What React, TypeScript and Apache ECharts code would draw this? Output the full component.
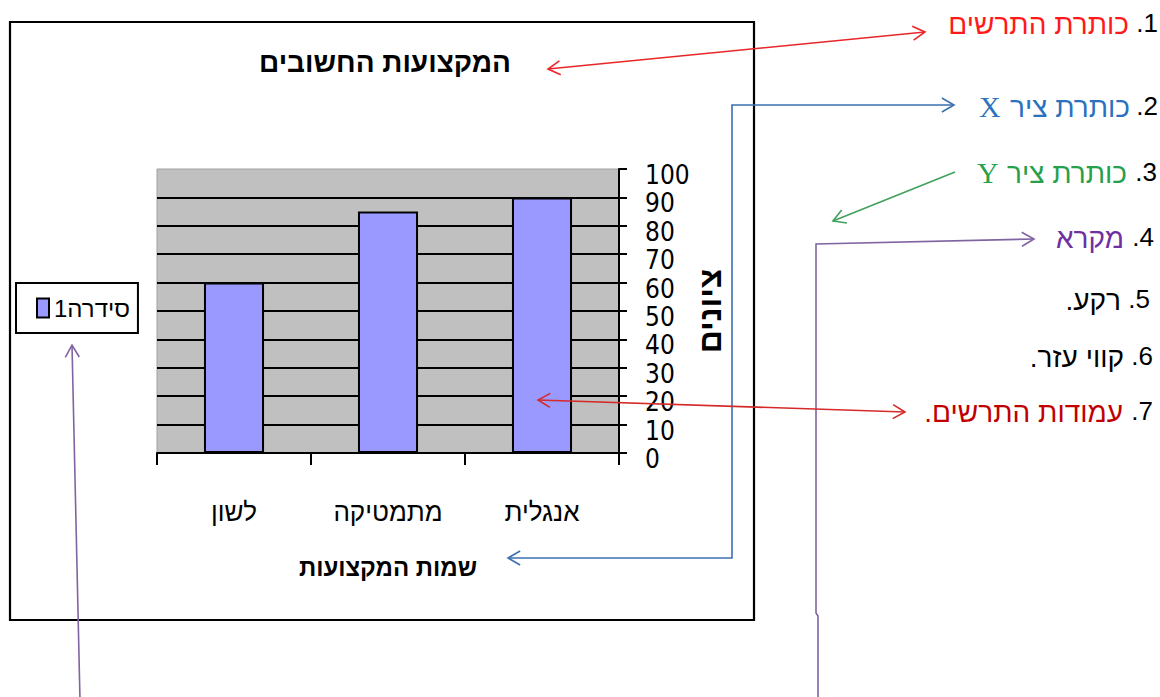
import React, { useEffect, useRef } from "react";
import * as echarts from "echarts";

// ---------- data ----------
const categories = ["אנגלית", "מתמטיקה", "לשון"];
const scores = [90, 85, 60];
const seriesName = "סידרה1";
const chartTitle = "המקצועות החשובים";
const xAxisTitle = "שמות המקצועות";
const yAxisTitle = "ציונים";
const yMin = 0;
const yMax = 100;
const yInterval = 10;

const noteNumbers = ["1.", "2.", "3.", "4.", "5.", "6.", "7."];
const noteTexts = ["כותרת התרשים", "כותרת ציר", "כותרת ציר", "מקרא", "רקע.", "קווי עזר.", "עמודות התרשים."];
const noteLatin = ["", "X", "Y", "", "", "", ""];
const noteColors = ["#ff1a1a", "#2a72bf", "#27a04c", "#7030a0", "#000000", "#000000", "#c00000"];

// ---------- layout / style ----------
const COND = '"DejaVu Sans Condensed", "Liberation Sans", Arial, sans-serif';
const SANS = '"Liberation Sans", Arial, sans-serif';
const SERIF = '"Liberation Serif", "Times New Roman", serif';
const rtl = (s: string) => "\u202B" + s + "\u202C";

const noteY = [23, 106, 172, 237, 299, 356, 411];
const noteNumRight = [1158, 1158, 1157, 1154, 1150, 1153, 1153];
const noteTextRight = [1129, 1130, 1127, 1124, 1121, 1124, 1123];
const noteLatinLeft = [0, 979, 977, 0, 0, 0, 0];

function arrowHead(tip: number[], from: number[], color: string, lw = 1.6, len = 14, ang = Math.PI / 6) {
  const a = Math.atan2(tip[1] - from[1], tip[0] - from[0]);
  const p1 = [tip[0] - len * Math.cos(a - ang), tip[1] - len * Math.sin(a - ang)];
  const p2 = [tip[0] - len * Math.cos(a + ang), tip[1] - len * Math.sin(a + ang)];
  return {
    type: "polyline",
    z: 100,
    shape: { points: [p1, tip, p2] },
    style: { stroke: color, lineWidth: lw, fill: null },
  };
}

function pline(points: number[][], color: string, lw = 1.6) {
  return {
    type: "polyline",
    z: 100,
    shape: { points },
    style: { stroke: color, lineWidth: lw, fill: null },
  };
}

export default function App() {
  const ref = useRef<HTMLDivElement>(null);

  useEffect(() => {
    if (!ref.current) return;
    const chart = echarts.init(ref.current, undefined, { renderer: "svg" });

    const RED = "#e8262a";
    const BLUE = "#3b70b0";
    const GREEN = "#3fa15c";
    const PURPLE = "#8064a2";
    const RED7 = "#d42a2a";

    const graphics: any[] = [
      // chart frame
      {
        type: "rect",
        z: 50,
        shape: { x: 10, y: 22, width: 744, height: 598 },
        style: { fill: null, stroke: "#000", lineWidth: 2.2 },
      },
      // 1. title arrow (double)
      pline([[548, 69], [925, 32]], RED),
      arrowHead([548, 69], [925, 32], RED),
      arrowHead([925, 32], [548, 69], RED),
      // 2. x-axis title arrow
      pline([[508, 558], [732, 558], [732, 105], [954, 105]], BLUE),
      arrowHead([508, 558], [732, 558], BLUE),
      arrowHead([954, 105], [732, 105], BLUE),
      // 3. y-axis title arrow
      pline([[955, 172], [833, 221]], GREEN),
      arrowHead([833, 221], [955, 172], GREEN),
      // 4. legend arrows
      pline([[1034, 239], [816, 244], [816, 613], [818, 616], [818, 700]], PURPLE),
      arrowHead([1034, 239], [816, 244], PURPLE),
      pline([[72, 345], [80, 700]], PURPLE),
      arrowHead([72, 345], [80, 700], PURPLE),
      // 7. bars arrow (double)
      pline([[538, 400], [905, 412]], RED7),
      arrowHead([538, 400], [905, 412], RED7),
      arrowHead([905, 412], [538, 400], RED7),
    ];

    noteNumbers.forEach((n, i) => {
      graphics.push({
        type: "text",
        z: 100,
        x: noteNumRight[i],
        y: noteY[i],
        style: {
          text: rtl(n),
          fill: "#000",
          font: `26px ${SANS}`,
          align: "right",
          verticalAlign: "middle",
        },
      });
      graphics.push({
        type: "text",
        z: 100,
        x: noteTextRight[i],
        y: noteY[i] + 1,
        style: {
          text: rtl(noteTexts[i]),
          fill: noteColors[i],
          font: `28px ${SANS}`,
          align: "right",
          verticalAlign: "middle",
        },
      });
      if (noteLatin[i]) {
        graphics.push({
          type: "text",
          z: 100,
          x: noteLatinLeft[i],
          y: noteY[i],
          style: {
            text: noteLatin[i],
            fill: noteColors[i],
            font: `30px ${SERIF}`,
            align: "left",
            verticalAlign: "middle",
          },
        });
      }
    });

    const option: any = {
      animation: false,
      backgroundColor: "#ffffff",
      textStyle: { fontFamily: SANS },
      title: {
        text: chartTitle,
        left: 385,
        top: 48,
        padding: 0,
        textAlign: "center",
        textStyle: { fontSize: 28, fontWeight: "bold", color: "#000", fontFamily: SANS },
      },
      legend: {
        left: 16,
        top: 283,
        orient: "vertical",
        backgroundColor: "#fff",
        borderColor: "#000",
        borderWidth: 2,
        borderRadius: 0,
        padding: [13, 8, 13, 20],
        itemWidth: 12,
        itemHeight: 19,
        textStyle: { fontSize: 24, fontFamily: SANS, color: "#000" },
        data: [{ name: seriesName, icon: "rect" }],
      },
      grid: {
        left: 157,
        right: 541,
        top: 169,
        bottom: 244,
        show: true,
        backgroundColor: "#c0c0c0",
        borderColor: "#a0a0a0",
        borderWidth: 1,
        containLabel: false,
      },
      xAxis: {
        type: "category",
        data: categories,
        inverse: true,
        axisLine: { show: true, lineStyle: { color: "#000", width: 2 } },
        axisTick: { show: true, length: 12, lineStyle: { color: "#000", width: 2 } },
        axisLabel: { fontSize: 26, color: "#000", margin: 46, fontFamily: SANS },
        splitLine: { show: false },
        name: xAxisTitle,
        nameLocation: "middle",
        nameGap: 102,
        nameTextStyle: { fontSize: 24, fontWeight: "bold", color: "#000", fontFamily: SANS },
      },
      yAxis: {
        type: "value",
        position: "right",
        min: yMin,
        max: yMax,
        interval: yInterval,
        axisLine: { show: true, lineStyle: { color: "#000", width: 2 } },
        axisTick: { show: true, length: 8, lineStyle: { color: "#000", width: 2 } },
        axisLabel: {
          showMinLabel: true,
          showMaxLabel: true,
          hideOverlap: false,
          margin: 26,
          fontSize: 26,
          lineHeight: 12,
          verticalAlign: "top",
          color: "#000",
          fontFamily: COND,
        },
        splitLine: { show: true, showMaxLine: false, lineStyle: { color: "#000", width: 2 } },
        name: yAxisTitle,
        nameLocation: "middle",
        nameRotate: 90,
        nameGap: 72,
        nameTextStyle: { fontSize: 32, fontWeight: "bold", color: "#000", fontFamily: SANS },
      },
      series: [
        {
          type: "bar",
          name: seriesName,
          data: scores,
          barCategoryGap: "61%",
          itemStyle: { color: "#9999ff", borderColor: "#000", borderWidth: 2 },
        },
      ],
      graphic: graphics,
    };

    chart.setOption(option);
    return () => chart.dispose();
  }, []);

  return (
    <div
      ref={ref}
      style={{ position: "fixed", left: 0, top: 0, width: 1160, height: 697, background: "#fff" }}
    />
  );
}
